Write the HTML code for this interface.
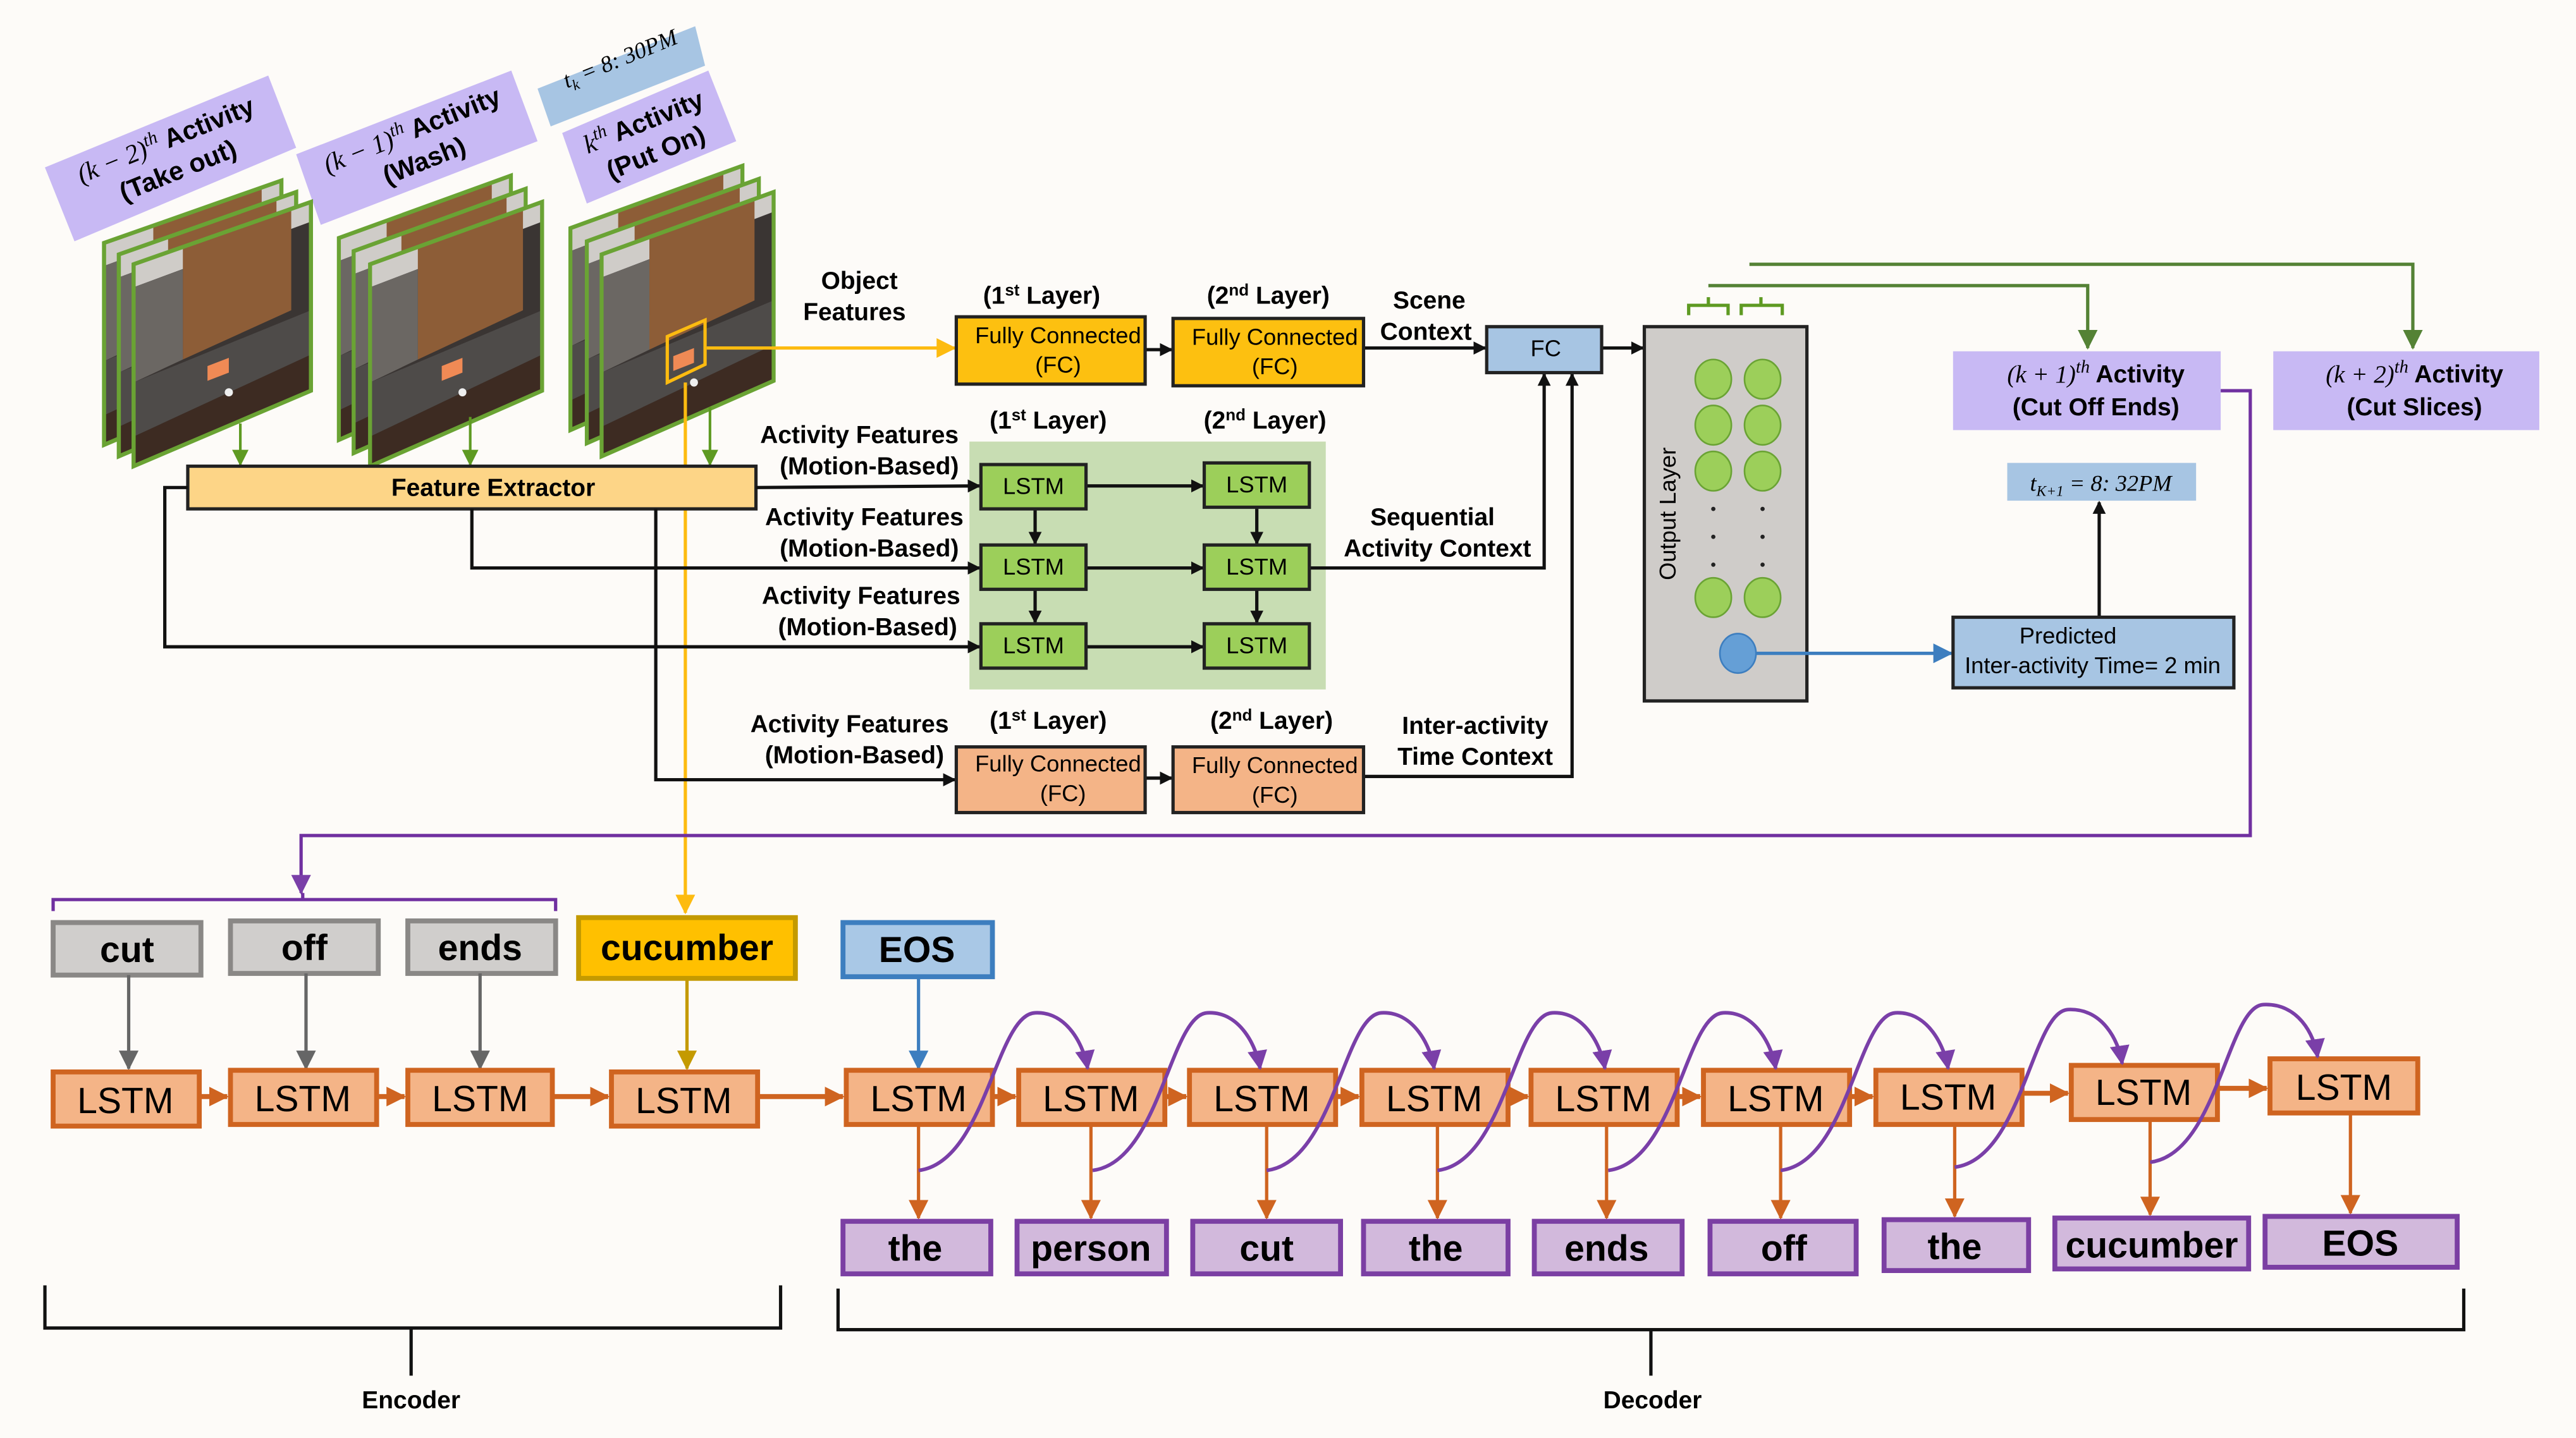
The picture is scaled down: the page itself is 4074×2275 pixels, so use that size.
<!DOCTYPE html>
<html><head><meta charset="utf-8"><style>
html,body{margin:0;padding:0;background:#fdfbf8}
svg{display:block}
text{font-family:"Liberation Sans Narrow","Liberation Sans",sans-serif}
.b{font-weight:bold}
.m{font-family:"Liberation Serif",serif;font-style:italic;font-weight:normal}
</style></head><body>
<svg width="4074" height="2275" viewBox="0 0 1568 876" xmlns="http://www.w3.org/2000/svg">
<defs>
<marker id="ak" markerWidth="8" markerHeight="8" refX="7" refY="4" orient="auto" markerUnits="userSpaceOnUse"><path d="M0,0 L8,4 L0,8 z" fill="#111"/></marker>
<marker id="ag" markerWidth="10" markerHeight="10" refX="9" refY="5" orient="auto" markerUnits="userSpaceOnUse"><path d="M0,0 L10,5 L0,10 z" fill="#5e9a22"/></marker>
<marker id="agd" markerWidth="12" markerHeight="12" refX="11" refY="6" orient="auto" markerUnits="userSpaceOnUse"><path d="M0,0 L12,6 L0,12 z" fill="#548235"/></marker>
<marker id="ay" markerWidth="12" markerHeight="12" refX="11" refY="6" orient="auto" markerUnits="userSpaceOnUse"><path d="M0,0 L12,6 L0,12 z" fill="#fdbb10"/></marker>
<marker id="ao" markerWidth="12" markerHeight="12" refX="11" refY="6" orient="auto" markerUnits="userSpaceOnUse"><path d="M0,0 L12,6 L0,12 z" fill="#cf6420"/></marker>
<marker id="ap" markerWidth="12" markerHeight="12" refX="11" refY="6" orient="auto" markerUnits="userSpaceOnUse"><path d="M0,0 L12,6 L0,12 z" fill="#7a3fa8"/></marker>
<marker id="agr" markerWidth="12" markerHeight="12" refX="11" refY="6" orient="auto" markerUnits="userSpaceOnUse"><path d="M0,0 L12,6 L0,12 z" fill="#666"/></marker>
<marker id="ab" markerWidth="12" markerHeight="12" refX="11" refY="6" orient="auto" markerUnits="userSpaceOnUse"><path d="M0,0 L12,6 L0,12 z" fill="#3d7ebf"/></marker>
<marker id="aol" markerWidth="12" markerHeight="12" refX="11" refY="6" orient="auto" markerUnits="userSpaceOnUse"><path d="M0,0 L12,6 L0,12 z" fill="#c49a00"/></marker>
<clipPath id="pc"><polygon points="0,0 108,-38 108,77 0,123"/></clipPath>
<g id="img">
 <g clip-path="url(#pc)">
  <rect x="0" y="-40" width="110" height="170" fill="#3a3533"/>
  <polygon points="0,0 108,-38 108,-26 0,14" fill="#cfccc8"/>
  <polygon points="30,-11 96,-34 96,28 30,58" fill="#8d5d37"/>
  <polygon points="0,14 30,3 30,58 0,72" fill="#6b6763"/>
  <polygon points="0,72 108,28 108,55 0,105" fill="#4e4b49"/>
  <polygon points="0,105 108,55 108,80 0,130" fill="#3d2b22"/>
  <polygon points="45,62 58,57 58,66 45,71" fill="#f08a55"/>
  <circle cx="58" cy="78" r="2.5" fill="#eee"/>
 </g>
 <polygon points="0,0 108,-38 108,77 0,123" fill="none" stroke="#6aa334" stroke-width="2.5"/>
</g>
</defs>
<rect width="1568" height="876" fill="#fdfbf8"/>

<!-- activity labels -->
<polygon points="27,102 163,46 180,90 45,147" fill="#c8b9f4"/>
<polygon points="180,94 311,43 327,86 195,137" fill="#c8b9f4"/>
<polygon points="342,81 431,43 448,86 357,124" fill="#c8b9f4"/>
<polygon points="327,54 423,16 429,40 335,77" fill="#a7c5e3"/>
<g transform="translate(104,94) rotate(-22)" font-size="16" text-anchor="middle">
 <text y="-4" class="b"><tspan class="m">(k − 2)</tspan><tspan class="m" font-size="11" dy="-6">th</tspan><tspan dy="6"> Activity</tspan></text>
 <text y="16" class="b">(Take out)</text>
</g>
<g transform="translate(254,88) rotate(-22)" font-size="16" text-anchor="middle">
 <text y="-4" class="b"><tspan class="m">(k − 1)</tspan><tspan class="m" font-size="11" dy="-6">th</tspan><tspan dy="6"> Activity</tspan></text>
 <text y="16" class="b">(Wash)</text>
</g>
<g transform="translate(395,83) rotate(-22)" font-size="16" text-anchor="middle">
 <text y="-4" class="b"><tspan class="m">k</tspan><tspan class="m" font-size="11" dy="-6">th</tspan><tspan dy="6"> Activity</tspan></text>
 <text y="16" class="b">(Put On)</text>
</g>
<g transform="translate(379,40) rotate(-22)" font-size="14" text-anchor="middle">
 <text class="m">t<tspan font-size="9" dy="3">k</tspan><tspan dy="-3"> = 8: 30PM</tspan></text>
</g>

<!-- image stacks -->
<use href="#img" transform="translate(63,148)"/>
<use href="#img" transform="translate(72,155)"/>
<use href="#img" transform="translate(81,161)"/>
<use href="#img" transform="translate(206,145) scale(0.97,1)"/>
<use href="#img" transform="translate(215,153) scale(0.97,1)"/>
<use href="#img" transform="translate(225,161) scale(0.97,1)"/>
<use href="#img" transform="translate(347,139) scale(0.97,1)"/>
<use href="#img" transform="translate(357,147) scale(0.97,1)"/>
<use href="#img" transform="translate(366,155) scale(0.97,1)"/>
<polygon points="406,205 429,195 429,222 406,233" fill="none" stroke="#fdbb10" stroke-width="2"/>

<!-- green arrows to FE -->
<g stroke="#5e9a22" stroke-width="1.6" fill="none">
 <line x1="146" y1="258" x2="146" y2="283" marker-end="url(#ag)"/>
 <line x1="286" y1="254" x2="286" y2="283" marker-end="url(#ag)"/>
 <line x1="432" y1="248" x2="432" y2="283" marker-end="url(#ag)"/>
</g>

<!-- yellow lines -->
<line x1="430" y1="212" x2="581" y2="212" stroke="#fdbb10" stroke-width="2" marker-end="url(#ay)"/>
<line x1="417" y1="233" x2="417" y2="556" stroke="#fdbb10" stroke-width="2" marker-end="url(#ay)"/>

<!-- Feature extractor -->
<rect x="114" y="284" width="346" height="26" fill="#fdd587" stroke="#222" stroke-width="2"/>
<text x="300" y="302" class="b" font-size="15" text-anchor="middle">Feature Extractor</text>

<!-- green panel -->
<rect x="590" y="269" width="217" height="151" fill="#c8ddb3"/>

<!-- black connectors -->
<g stroke="#111" stroke-width="2" fill="none">
 <line x1="460" y1="297" x2="596" y2="296" marker-end="url(#ak)"/>
 <polyline points="287,310 287,346 596,346" marker-end="url(#ak)"/>
 <polyline points="114,297 100,297 100,394 596,394" marker-end="url(#ak)"/>
 <polyline points="399,310 399,475 581,475" marker-end="url(#ak)"/>
 <line x1="661" y1="296" x2="732" y2="296" marker-end="url(#ak)"/>
 <line x1="661" y1="346" x2="732" y2="346" marker-end="url(#ak)"/>
 <line x1="661" y1="394" x2="732" y2="394" marker-end="url(#ak)"/>
 <line x1="630" y1="310" x2="630" y2="331" marker-end="url(#ak)"/>
 <line x1="630" y1="359" x2="630" y2="379" marker-end="url(#ak)"/>
 <line x1="765" y1="310" x2="765" y2="331" marker-end="url(#ak)"/>
 <line x1="765" y1="359" x2="765" y2="379" marker-end="url(#ak)"/>
 <line x1="697" y1="213" x2="713" y2="213" marker-end="url(#ak)"/>
 <line x1="697" y1="474" x2="713" y2="474" marker-end="url(#ak)"/>
 <line x1="830" y1="212" x2="904" y2="212" marker-end="url(#ak)"/>
 <line x1="975" y1="212" x2="1000" y2="212" marker-end="url(#ak)"/>
 <polyline points="797,346 940,346 940,228" marker-end="url(#ak)"/>
 <polyline points="830,473 957,473 957,228" marker-end="url(#ak)"/>
 <line x1="1278" y1="376" x2="1278" y2="306" marker-end="url(#ak)"/>
</g>

<!-- LSTM green -->
<g fill="#9ccf5a" stroke="#222" stroke-width="2">
 <rect x="597" y="283" width="64" height="27"/><rect x="733" y="282" width="64" height="27"/>
 <rect x="597" y="332" width="64" height="27"/><rect x="733" y="332" width="64" height="27"/>
 <rect x="597" y="380" width="64" height="27"/><rect x="733" y="380" width="64" height="27"/>
</g>
<g font-size="14" text-anchor="middle">
 <text x="629" y="301">LSTM</text><text x="765" y="300">LSTM</text>
 <text x="629" y="350">LSTM</text><text x="765" y="350">LSTM</text>
 <text x="629" y="398">LSTM</text><text x="765" y="398">LSTM</text>
</g>

<!-- FC boxes -->
<rect x="582" y="193" width="115" height="41" fill="#fdc010" stroke="#222" stroke-width="2"/>
<rect x="714" y="194" width="116" height="41" fill="#fdc010" stroke="#222" stroke-width="2"/>
<rect x="582" y="455" width="115" height="40" fill="#f4b487" stroke="#222" stroke-width="2"/>
<rect x="714" y="455" width="116" height="40" fill="#f4b487" stroke="#222" stroke-width="2"/>
<rect x="905" y="199" width="70" height="28" fill="#a7c5e3" stroke="#222" stroke-width="2"/>
<g font-size="14" text-anchor="middle">
 <text x="644" y="209">Fully Connected</text><text x="644" y="227">(FC)</text>
 <text x="776" y="210">Fully Connected</text><text x="776" y="228">(FC)</text>
 <text x="644" y="470">Fully Connected</text><text x="647" y="488">(FC)</text>
 <text x="776" y="471">Fully Connected</text><text x="776" y="489">(FC)</text>
 <text x="941" y="217">FC</text>
</g>

<!-- labels -->
<g class="b" font-size="15" font-weight="bold" text-anchor="middle">
 <text x="523" y="176">Object</text><text x="520" y="195">Features</text>
 <text x="634" y="185">(1<tspan font-size="10" dy="-5">st</tspan><tspan dy="5"> Layer)</tspan></text>
 <text x="772" y="185">(2<tspan font-size="10" dy="-5">nd</tspan><tspan dy="5"> Layer)</tspan></text>
 <text x="638" y="261">(1<tspan font-size="10" dy="-5">st</tspan><tspan dy="5"> Layer)</tspan></text>
 <text x="770" y="261">(2<tspan font-size="10" dy="-5">nd</tspan><tspan dy="5"> Layer)</tspan></text>
 <text x="638" y="444">(1<tspan font-size="10" dy="-5">st</tspan><tspan dy="5"> Layer)</tspan></text>
 <text x="774" y="444">(2<tspan font-size="10" dy="-5">nd</tspan><tspan dy="5"> Layer)</tspan></text>
 <text x="870" y="188">Scene</text><text x="868" y="207">Context</text>
 <text x="872" y="320">Sequential</text><text x="875" y="339">Activity Context</text>
 <text x="898" y="447">Inter-activity</text><text x="898" y="466">Time Context</text>
 <text x="523" y="270">Activity Features</text><text x="529" y="289">(Motion-Based)</text>
 <text x="526" y="320">Activity Features</text><text x="529" y="339">(Motion-Based)</text>
 <text x="524" y="368">Activity Features</text><text x="528" y="387">(Motion-Based)</text>
 <text x="517" y="446">Activity Features</text><text x="520" y="465">(Motion-Based)</text>
</g>

<!-- output layer -->
<rect x="1001" y="199" width="99" height="228" fill="#cfccc9" stroke="#222" stroke-width="2"/>
<text transform="translate(1020,313) rotate(-90)" font-family="Liberation Sans,sans-serif" font-size="14" text-anchor="middle">Output Layer</text>
<g fill="#9ccf5a" stroke="#6aa334" stroke-width="1">
 <ellipse cx="1043" cy="231" rx="11" ry="12"/><ellipse cx="1073" cy="231" rx="11" ry="12"/>
 <ellipse cx="1043" cy="259" rx="11" ry="12"/><ellipse cx="1073" cy="259" rx="11" ry="12"/>
 <ellipse cx="1043" cy="287" rx="11" ry="12"/><ellipse cx="1073" cy="287" rx="11" ry="12"/>
 <ellipse cx="1043" cy="364" rx="11" ry="12"/><ellipse cx="1073" cy="364" rx="11" ry="12"/>
</g>
<g fill="#222">
 <circle cx="1043" cy="310" r="1.3"/><circle cx="1073" cy="310" r="1.3"/>
 <circle cx="1043" cy="327" r="1.3"/><circle cx="1073" cy="327" r="1.3"/>
 <circle cx="1043" cy="344" r="1.3"/><circle cx="1073" cy="344" r="1.3"/>
</g>
<ellipse cx="1058" cy="398" rx="11" ry="12" fill="#659fd6" stroke="#3d7ebf" stroke-width="1"/>
<line x1="1069" y1="398" x2="1188" y2="398" stroke="#3d7ebf" stroke-width="2" marker-end="url(#ab)"/>

<!-- green brackets and lines -->
<g stroke="#5e9a22" stroke-width="2" fill="none">
 <path d="M1028,192 V186 H1052 V192 M1040,186 V181"/>
 <path d="M1060,192 V186 H1085 V192 M1072,186 V181"/>
</g>
<g stroke="#548235" stroke-width="2" fill="none">
 <polyline points="1040,174 1271,174 1271,212" marker-end="url(#agd)"/>
 <polyline points="1065,161 1469,161 1469,212" marker-end="url(#agd)"/>
</g>

<!-- right boxes -->
<rect x="1189" y="214" width="163" height="48" fill="#c8b9f4"/>
<rect x="1384" y="214" width="162" height="48" fill="#c8b9f4"/>
<g class="b" font-size="15" font-weight="bold" text-anchor="middle">
 <text x="1276" y="233"><tspan class="m">(k + 1)</tspan><tspan class="m" font-size="11" dy="-6">th</tspan><tspan dy="6"> Activity</tspan></text>
 <text x="1276" y="253">(Cut Off Ends)</text>
 <text x="1470" y="233"><tspan class="m">(k + 2)</tspan><tspan class="m" font-size="11" dy="-6">th</tspan><tspan dy="6"> Activity</tspan></text>
 <text x="1470" y="253">(Cut Slices)</text>
</g>
<rect x="1222" y="282" width="115" height="23" fill="#a7c5e3"/>
<text x="1279" y="299" class="m" font-size="14" text-anchor="middle">t<tspan font-size="9" dy="3">K+1</tspan><tspan dy="-3"> = 8: 32PM</tspan></text>
<rect x="1189" y="376" width="171" height="43" fill="#a7c5e3" stroke="#222" stroke-width="2"/>
<g font-size="14" text-anchor="middle">
 <text x="1259" y="392">Predicted</text>
 <text x="1274" y="410">Inter-activity Time= 2 min</text>
</g>

<!-- purple feedback -->
<polyline points="1352,238 1370,238 1370,509 183,509 183,544" fill="none" stroke="#7030a0" stroke-width="2" marker-end="url(#ap)"/>
<path d="M32,555 V548 H338 V555 M184,548 V544" fill="none" stroke="#7030a0" stroke-width="2"/>

<!-- encoder inputs -->
<g stroke-width="3">
 <rect x="32" y="562" width="90" height="32" fill="#d0cecc" stroke="#8a8886"/>
 <rect x="140" y="561" width="90" height="32" fill="#d0cecc" stroke="#8a8886"/>
 <rect x="248" y="561" width="90" height="32" fill="#d0cecc" stroke="#8a8886"/>
 <rect x="352" y="559" width="132" height="37" fill="#ffc000" stroke="#c49a00"/>
 <rect x="513" y="562" width="91" height="33" fill="#a9c8e6" stroke="#3d7ebf"/>
</g>
<g font-size="22" font-weight="bold" text-anchor="middle">
 <text x="77" y="586">cut</text><text x="185" y="585">off</text><text x="292" y="585">ends</text>
 <text x="418" y="585">cucumber</text><text x="558" y="586">EOS</text>
</g>
<g stroke-width="2" fill="none">
 <line x1="78" y1="594" x2="78" y2="651" stroke="#666" marker-end="url(#agr)"/>
 <line x1="186" y1="593" x2="186" y2="651" stroke="#666" marker-end="url(#agr)"/>
 <line x1="292" y1="593" x2="292" y2="651" stroke="#666" marker-end="url(#agr)"/>
 <line x1="418" y1="596" x2="418" y2="651" stroke="#c49a00" marker-end="url(#aol)"/>
 <line x1="559" y1="595" x2="559" y2="651" stroke="#3d7ebf" marker-end="url(#ab)"/>
</g>

<!-- orange LSTMs -->
<g fill="#f4b487" stroke="#cf6420" stroke-width="3">
 <rect x="32" y="653" width="89" height="33"/><rect x="140" y="652" width="89" height="33"/>
 <rect x="248" y="652" width="88" height="33"/><rect x="372" y="653" width="89" height="33"/>
 <rect x="515" y="652" width="89" height="33"/><rect x="620" y="652" width="89" height="33"/>
 <rect x="724" y="652" width="89" height="33"/><rect x="829" y="652" width="89" height="33"/>
 <rect x="932" y="652" width="89" height="33"/><rect x="1037" y="652" width="89" height="33"/>
 <rect x="1142" y="652" width="89" height="33"/><rect x="1261" y="649" width="89" height="33"/>
 <rect x="1382" y="645" width="90" height="33"/>
</g>
<g font-size="22" text-anchor="middle">
 <text x="76" y="678">LSTM</text><text x="184" y="677">LSTM</text><text x="292" y="677">LSTM</text>
 <text x="416" y="678">LSTM</text><text x="559" y="677">LSTM</text><text x="664" y="677">LSTM</text>
 <text x="768" y="677">LSTM</text><text x="873" y="677">LSTM</text><text x="976" y="677">LSTM</text>
 <text x="1081" y="677">LSTM</text><text x="1186" y="676">LSTM</text><text x="1305" y="673">LSTM</text>
 <text x="1427" y="670">LSTM</text>
</g>
<g stroke="#cf6420" stroke-width="3" fill="none">
 <line x1="121" y1="668" x2="138" y2="668" marker-end="url(#ao)"/>
 <line x1="229" y1="668" x2="246" y2="668" marker-end="url(#ao)"/>
 <line x1="336" y1="668" x2="370" y2="668" marker-end="url(#ao)"/>
 <line x1="461" y1="668" x2="513" y2="668" marker-end="url(#ao)"/>
 <line x1="604" y1="668" x2="618" y2="668" marker-end="url(#ao)"/>
 <line x1="709" y1="668" x2="722" y2="668" marker-end="url(#ao)"/>
 <line x1="813" y1="668" x2="827" y2="668" marker-end="url(#ao)"/>
 <line x1="918" y1="668" x2="930" y2="668" marker-end="url(#ao)"/>
 <line x1="1021" y1="668" x2="1035" y2="668" marker-end="url(#ao)"/>
 <line x1="1126" y1="668" x2="1140" y2="668" marker-end="url(#ao)"/>
 <line x1="1231" y1="666" x2="1259" y2="666" marker-end="url(#ao)"/>
 <line x1="1350" y1="663" x2="1380" y2="663" marker-end="url(#ao)"/>
</g>
<g stroke="#cf6420" stroke-width="2" fill="none">
 <line x1="559" y1="686" x2="559" y2="742" marker-end="url(#ao)"/>
 <line x1="664" y1="686" x2="664" y2="742" marker-end="url(#ao)"/>
 <line x1="771" y1="686" x2="771" y2="742" marker-end="url(#ao)"/>
 <line x1="875" y1="686" x2="875" y2="742" marker-end="url(#ao)"/>
 <line x1="978" y1="686" x2="978" y2="742" marker-end="url(#ao)"/>
 <line x1="1084" y1="686" x2="1084" y2="742" marker-end="url(#ao)"/>
 <line x1="1190" y1="685" x2="1190" y2="741" marker-end="url(#ao)"/>
 <line x1="1309" y1="682" x2="1309" y2="740" marker-end="url(#ao)"/>
 <line x1="1431" y1="678" x2="1431" y2="739" marker-end="url(#ao)"/>
</g>

<!-- purple loops -->
<g stroke="#7a3fa8" stroke-width="2.2" fill="none">
 <path d="M559,713 C600,708 606,618 630,617 C650,616 660,638 662,651" marker-end="url(#ap)"/>
 <path d="M665,713 C706,708 712,618 735,617 C755,616 765,638 767,651" marker-end="url(#ap)"/>
 <path d="M771,713 C812,708 818,618 841,617 C861,616 871,638 873,651" marker-end="url(#ap)"/>
 <path d="M875,713 C916,708 922,618 945,617 C965,616 975,638 977,651" marker-end="url(#ap)"/>
 <path d="M979,713 C1020,708 1026,618 1049,617 C1069,616 1079,638 1081,651" marker-end="url(#ap)"/>
 <path d="M1084,713 C1125,708 1131,618 1154,617 C1174,616 1184,638 1186,651" marker-end="url(#ap)"/>
 <path d="M1190,711 C1231,706 1237,616 1259,615 C1280,614 1290,634 1292,648" marker-end="url(#ap)"/>
 <path d="M1309,708 C1350,703 1356,613 1378,612 C1399,611 1409,630 1411,644" marker-end="url(#ap)"/>
</g>

<!-- output words -->
<g fill="#d2b9dc" stroke="#7b3fa3" stroke-width="3">
 <rect x="513" y="744" width="90" height="32"/><rect x="619" y="744" width="91" height="32"/>
 <rect x="726" y="744" width="90" height="32"/><rect x="830" y="744" width="88" height="32"/>
 <rect x="934" y="744" width="90" height="32"/><rect x="1041" y="744" width="89" height="32"/>
 <rect x="1147" y="743" width="88" height="31"/><rect x="1251" y="742" width="118" height="31"/>
 <rect x="1379" y="741" width="117" height="31"/>
</g>
<g font-size="22" font-weight="bold" text-anchor="middle">
 <text x="557" y="768">the</text><text x="664" y="768">person</text><text x="771" y="768">cut</text>
 <text x="874" y="768">the</text><text x="978" y="768">ends</text><text x="1086" y="768">off</text>
 <text x="1190" y="767">the</text><text x="1310" y="766">cucumber</text><text x="1437" y="765">EOS</text>
</g>

<!-- encoder/decoder brackets -->
<g stroke="#111" stroke-width="2" fill="none">
 <path d="M27,783 V809 H475 V783 M250,809 V838"/>
 <path d="M510,785 V810 H1500 V785 M1005,810 V838"/>
</g>
<g font-size="15" font-weight="bold" text-anchor="middle">
 <text x="250" y="858">Encoder</text><text x="1006" y="858">Decoder</text>
</g>
</svg>
</body></html>
